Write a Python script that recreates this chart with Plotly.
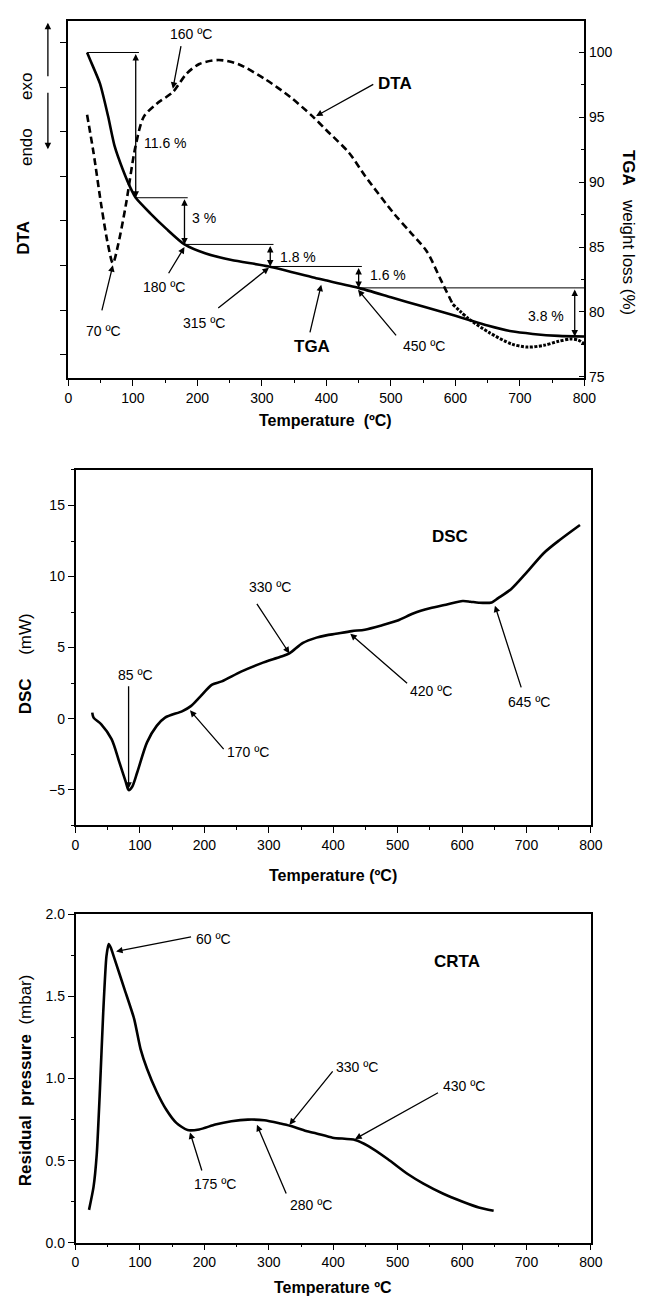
import plotly.graph_objects as go

# ---------------- Panel 1 : DTA (arbitrary units) + TGA (%) ----------------
tga_T = [29, 34, 49, 61.5, 71.6, 84.2, 96.8, 104.4, 127, 152, 180, 213, 253, 311,
         384, 397, 450, 500, 550, 600, 620, 650, 687, 720, 760, 800]
tga_W = [100, 99.4, 97.6, 95.1, 92.8, 91.0, 89.5, 88.8, 87.6, 86.4, 85.2, 84.5, 84.0, 83.5,
         82.6, 82.45, 81.85, 81.13, 80.41, 79.7, 79.4, 78.95, 78.5, 78.3, 78.15, 78.1]

dta_T = [29, 39, 51, 61.5, 69, 77, 89, 104, 117, 137, 162, 183, 203, 233, 263, 304, 344,
         379, 399, 435, 460, 505, 530, 556, 576, 596, 621, 652, 687, 712, 737, 760, 778, 790, 800]
dta_V = [5.38, 4.53, 3.35, 2.46, 2.05, 2.46, 3.35, 4.67, 5.34, 5.63, 5.89, 6.30, 6.52, 6.61,
         6.52, 6.19, 5.78, 5.34, 5.05, 4.53, 4.01, 3.16, 2.75, 2.31, 1.72, 1.13, 0.80, 0.50,
         0.24, 0.17, 0.21, 0.30, 0.35, 0.33, 0.24]

# weight-loss steps: corner temperatures and levels
step_T = [29, 104.4, 180, 313, 450, 785, 800]
step_W = [100, 88.8, 85.2, 83.5, 81.85, 78.1]
step_labels = ["11.6 %", "3 %", "1.8 %", "1.6 %", "3.8 %"]
step_label_T = [150, 211, 356, 495, 741]
step_label_W = [93.0, 87.2, 84.2, 82.86, 79.66]

# ---------------- Panel 2 : DSC ----------------
dsc_T = [26, 28, 40, 56, 68, 78, 82.5, 88, 96, 111, 126, 139, 166, 179, 194, 212, 227, 257,
         288, 318, 332, 353, 374, 389, 404, 429, 449, 475, 500, 525, 550, 575, 601, 613, 626,
         646, 656, 676, 702, 727, 752, 783]
dsc_mW = [0.42, 0.07, -0.40, -1.44, -3.06, -4.45, -5.03, -4.80, -3.76, -1.67, -0.51, 0.07,
          0.53, 0.88, 1.57, 2.39, 2.62, 3.31, 3.89, 4.35, 4.59, 5.33, 5.70, 5.86, 5.97, 6.16,
          6.26, 6.56, 6.90, 7.41, 7.76, 8.02, 8.28, 8.23, 8.16, 8.18, 8.48, 9.11, 10.38, 11.66,
          12.59, 13.63]

# ---------------- Panel 3 : CRTA ----------------
crta_T = [21, 28, 33, 38, 43, 48, 51.5, 54.5, 61, 76, 91, 101, 111, 126, 141, 156.5, 174,
          192, 217, 242, 267.5, 293, 318, 333, 358, 374, 399, 434, 454, 484.5, 515, 540, 570,
          601, 626, 649]
crta_P = [0.20, 0.34, 0.54, 0.94, 1.40, 1.745, 1.82, 1.80, 1.725, 1.545, 1.364, 1.18, 1.06,
          0.92, 0.81, 0.73, 0.686, 0.69, 0.72, 0.74, 0.75, 0.746, 0.726, 0.712, 0.68, 0.666,
          0.64, 0.626, 0.59, 0.51, 0.42, 0.36, 0.30, 0.25, 0.215, 0.195]

# annotations: (text, text_x, text_y, tail_x, tail_y, head_x, head_y)
p1_notes = [("160 ºC", 190, 101.4, 175, 100.6, 162, 97.2),
            ("70 ºC", 54, 78.5, 51.4, 80.0, 69, 83.6),
            ("180 ºC", 149, 81.95, 154, 82.86, 180, 85.0),
            ("315 ºC", 209.5, 79.13, 230, 80.2, 311, 83.4),
            ("450 ºC", 551, 77.4, 510, 78.07, 449, 81.7)]
p1_names = [("<b>DTA</b>", 507, 97.6, 475, 97.6, 384, 95.1),
            ("<b>TGA</b>", 377, 77.3, 374, 78.3, 392, 82.1)]
p2_notes = [("85 ºC", 93, 3.08, 82.4, 2.39, 82.4, -4.94),
            ("170 ºC", 267.5, -2.36, 232, -2.25, 177.7, 0.58),
            ("330 ºC", 302, 9.29, 280, 8.18, 332, 4.59),
            ("420 ºC", 552, 1.92, 517, 2.39, 426.5, 5.97),
            ("645 ºC", 704.6, 1.15, 692.5, 2.09, 651, 7.95)]
p3_notes = [("60 ºC", 214.5, 1.85, 181.7, 1.865, 63, 1.775),
            ("175 ºC", 217, 0.36, 196.8, 0.431, 177.7, 0.672),
            ("280 ºC", 365.4, 0.23, 328, 0.29, 281.6, 0.718),
            ("330 ºC", 437, 1.069, 401, 1.053, 332, 0.718),
            ("430 ºC", 603, 0.952, 565, 0.919, 434, 0.632)]

FONT = "Liberation Sans, Arial, sans-serif"
W, H = 652, 1307

fig = go.Figure()

split = dta_T.index(596)
fig.add_trace(go.Scatter(x=dta_T[:split + 1], y=dta_V[:split + 1], mode="lines",
                         line=dict(color="black", width=2.6, dash="7px,4px",
                                   shape="spline", smoothing=0.8),
                         xaxis="x", yaxis="y", showlegend=False))
fig.add_trace(go.Scatter(x=dta_T[split:], y=dta_V[split:], mode="lines",
                         line=dict(color="black", width=3, dash="3px,1.5px",
                                   shape="spline", smoothing=0.8),
                         xaxis="x", yaxis="y", showlegend=False))
fig.add_trace(go.Scatter(x=tga_T, y=tga_W, mode="lines",
                         line=dict(color="black", width=2.6, shape="spline", smoothing=0.6),
                         xaxis="x", yaxis="y2", showlegend=False))
fig.add_trace(go.Scatter(x=dsc_T, y=dsc_mW, mode="lines",
                         line=dict(color="black", width=2.6, shape="spline", smoothing=0.8),
                         xaxis="x2", yaxis="y3", showlegend=False))
fig.add_trace(go.Scatter(x=crta_T, y=crta_P, mode="lines",
                         line=dict(color="black", width=2.6, shape="spline", smoothing=0.6),
                         xaxis="x3", yaxis="y4", showlegend=False))

shapes = []
# horizontal step lines
for i in range(len(step_W)):
    x0 = step_T[i]
    x1 = step_T[i + 1] + (5 if i < len(step_W) - 1 else 0)
    if i == 4:
        x1 = 800
    shapes.append(dict(type="line", xref="x", yref="y2", x0=x0, x1=x1,
                       y0=step_W[i], y1=step_W[i], line=dict(color="black", width=1)))

annots = []
# double arrows of the steps
for i in range(len(step_labels)):
    xa = step_T[i + 1]
    annots.append(dict(x=xa, y=step_W[i + 1], ax=xa, ay=step_W[i], xref="x", yref="y2",
                       axref="x", ayref="y2", text="", showarrow=True, arrowhead=2,
                       arrowside="end+start", arrowsize=1, arrowwidth=1.3,
                       arrowcolor="black"))
    annots.append(dict(x=step_label_T[i], y=step_label_W[i], xref="x", yref="y2",
                       text=step_labels[i], showarrow=False,
                       font=dict(family=FONT, size=14, color="black")))


def add_notes(notes, xr, yr, size):
    for (t, tx, ty, ax_, ay_, hx, hy) in notes:
        annots.append(dict(x=hx, y=hy, ax=ax_, ay=ay_, xref=xr, yref=yr, axref=xr,
                           ayref=yr, text="", showarrow=True, arrowhead=2, arrowsize=1,
                           arrowwidth=1.3, arrowcolor="black"))
        annots.append(dict(x=tx, y=ty, xref=xr, yref=yr, text=t, showarrow=False,
                           font=dict(family=FONT, size=size, color="black")))


add_notes(p1_notes, "x", "y2", 14)
add_notes(p1_names, "x", "y2", 17)
add_notes(p2_notes, "x2", "y3", 14)
add_notes(p3_notes, "x3", "y4", 14)
annots.append(dict(x=581.7, y=12.8, xref="x2", yref="y3", text="<b>DSC</b>", showarrow=False,
                   font=dict(family=FONT, size=17, color="black")))
annots.append(dict(x=592.5, y=1.715, xref="x3", yref="y4", text="<b>CRTA</b>", showarrow=False,
                   font=dict(family=FONT, size=17, color="black")))


def paper(px, py):
    return px / W, 1 - py / H


def title(text, px, py, angle=0, size=16):
    x, y = paper(px, py)
    annots.append(dict(x=x, y=y, xref="paper", yref="paper", text=text, showarrow=False,
                       textangle=angle, xanchor="center", yanchor="middle",
                       font=dict(family=FONT, size=size, color="black")))


title("<b>Temperature  (ºC)</b>", 330, 418, size=16)
title("<b>Temperature (ºC)</b>", 337, 878, size=16)
title("<b>Temperature ºC</b>", 337, 1295, size=16)
title("<b>DTA</b>", 20, 233, angle=-90, size=17)
title("endo      exo", 23, 112, angle=-90, size=17)
title("<b>TGA</b>   weight loss (%)", 640, 227, angle=90, size=17)
title("<b>DSC</b>     (mW)", 22, 664, angle=-90, size=17)
title("<b>Residual  pressure</b>  (mbar)", 22, 1085, angle=-90, size=17)

# endo / exo arrows (outside the plot area)
ex, ey_top = paper(45, 15)
_, ey_bot = paper(45, 143)
annots.append(dict(x=ex, y=ey_top, xref="paper", yref="paper", ax=0, ay=55, text="",
                   showarrow=True, arrowhead=2, arrowsize=1, arrowwidth=1.3,
                   arrowcolor="black"))
annots.append(dict(x=ex, y=ey_bot, xref="paper", yref="paper", ax=0, ay=-58, text="",
                   showarrow=True, arrowhead=2, arrowsize=1, arrowwidth=1.3,
                   arrowcolor="black"))

axis_common = dict(showgrid=False, zeroline=False, showline=True, linecolor="black",
                   linewidth=1.5, ticks="outside", tickcolor="black", tickwidth=1.3)

x_common = dict(axis_common, range=[0, 800], dtick=100, tick0=0, ticklen=6, mirror=True,
                minor=dict(dtick=50, ticklen=3, ticks="outside", tickcolor="black"),
                tickfont=dict(family=FONT, size=14, color="black"))

fig.update_layout(
    width=W, height=H, margin=dict(l=0, r=0, t=0, b=0),
    paper_bgcolor="white", plot_bgcolor="white", showlegend=False,
    shapes=shapes, annotations=annots,
    xaxis=dict(x_common, domain=[66 / W, 595 / W], anchor="y"),
    yaxis=dict(axis_common, domain=[1 - 375 / H, 1 - 13 / H], anchor="x",
               range=[-0.532, 7.488], tickvals=[0, 1, 2, 3, 4, 5, 6, 7],
               showticklabels=False, ticklen=7, mirror=True),
    yaxis2=dict(axis_common, overlaying="y", side="right", anchor="x",
                range=[74.87, 102.44], tickvals=[75, 80, 85, 90, 95, 100], ticks="inside",
                ticklen=6, minor=dict(dtick=2.5, tick0=75, ticklen=4, ticks="inside",
                                      tickcolor="black"),
                tickfont=dict(family=FONT, size=14, color="black")),
    xaxis2=dict(x_common, domain=[73.3 / W, 601.7 / W], anchor="y3"),
    yaxis3=dict(axis_common, domain=[1 - 827.3 / H, 1 - 467.7 / H], anchor="x2",
                range=[-7.5, 17.5], dtick=5, tick0=0, ticklen=6, mirror=True,
                minor=dict(dtick=2.5, ticklen=3, ticks="outside", tickcolor="black"),
                tickfont=dict(family=FONT, size=14, color="black")),
    xaxis3=dict(x_common, domain=[73.3 / W, 601.7 / W], anchor="y4"),
    yaxis4=dict(axis_common, domain=[1 - 1250 / H, 1 - 917.7 / H], anchor="x3",
                range=[0, 2], dtick=0.5, tick0=0, tickformat=".1f", ticklen=6, mirror=True,
                minor=dict(dtick=0.25, ticklen=3, ticks="outside", tickcolor="black"),
                tickfont=dict(family=FONT, size=14, color="black")),
)

fig.write_html("out.html")
